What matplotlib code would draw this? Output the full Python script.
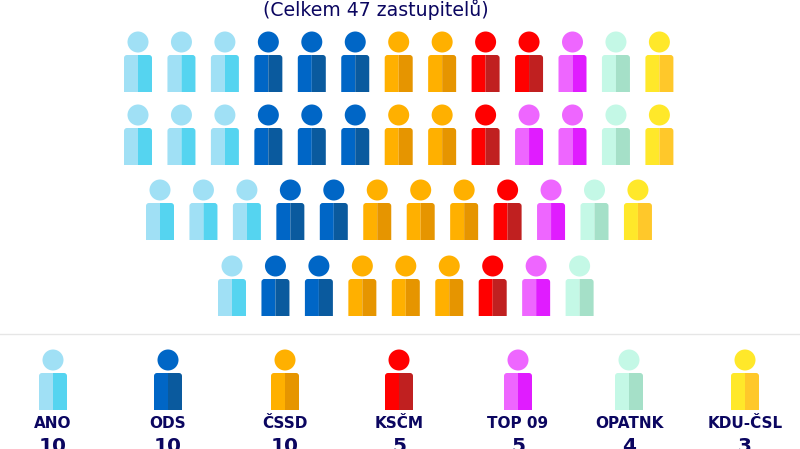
import matplotlib.pyplot as plt
from matplotlib.patches import Circle, PathPatch
from matplotlib.path import Path

parties = ["ANO", "ODS", "ČSSD", "KSČM", "TOP 09", "OPATNK", "KDU-ČSL"]
seats = [10, 10, 10, 5, 5, 4, 3]

# how many of each party sit in each row, top to bottom
row_ano = [3, 3, 3, 1]
row_ods = [3, 3, 2, 2]
row_cssd = [2, 2, 3, 3]
row_kscm = [2, 1, 1, 1]
row_top = [1, 2, 1, 1]
row_opat = [1, 1, 1, 1]
row_kdu = [1, 1, 1, 0]
row_counts = [row_ano, row_ods, row_cssd, row_kscm, row_top, row_opat, row_kdu]

light = ["#a0e0f5", "#0066c6", "#ffb000", "#ff0000", "#ee66ff", "#c4f8e6", "#ffe82a"]
dark = ["#55d4f0", "#0a5a9e", "#e69500", "#c02020", "#e01cff", "#a5e0c8", "#ffc82a"]
navy = "#0b0660"

row_start = [138, 138, 160, 232]
row_head_y = [42, 115, 190, 266]
step = 43.45
legend_x = [53, 168, 285, 399, 518, 629, 745]
legend_head_y = 360


def half_body(ax, cx, top, side, color):
    # side -1 = left half, +1 = right half, outer top corner rounded
    w, h, r = 14, 37, 3
    verts = [(cx, top + h), (cx + side * w, top + h), (cx + side * w, top + r),
             (cx + side * w, top), (cx + side * (w - r), top), (cx, top), (cx, top + h)]
    codes = [Path.MOVETO, Path.LINETO, Path.LINETO, Path.CURVE3, Path.CURVE3,
             Path.LINETO, Path.CLOSEPOLY]
    ax.add_patch(PathPatch(Path(verts, codes), fc=color, ec="none"))


def person(ax, cx, head_y, i):
    ax.add_patch(Circle((cx, head_y), 10.5, fc=light[i], ec="none"))
    half_body(ax, cx, head_y + 13, -1, light[i])
    half_body(ax, cx, head_y + 13, 1, dark[i])


fig = plt.figure(figsize=(8, 4.49), dpi=100)
ax = fig.add_axes([0, 0, 1, 1])
ax.set_xlim(0, 800)
ax.set_ylim(449, 0)
ax.axis("off")

ax.text(375.5, 9.5, "(Celkem 47 zastupitelů)", fontsize=13.6, color=navy,
        ha="center", va="center", family="DejaVu Sans")

for r in range(4):
    col = 0
    for i in range(len(parties)):
        for _ in range(row_counts[i][r]):
            person(ax, row_start[r] + col * step, row_head_y[r], i)
            col += 1

ax.plot([0, 800], [334, 334], color="#e6e6e6", lw=1)

for i, name in enumerate(parties):
    person(ax, legend_x[i], legend_head_y, i)
    ax.text(legend_x[i], 423, name, fontsize=11, fontweight="bold", color=navy,
            ha="center", va="center", family="DejaVu Sans")
    ax.text(legend_x[i], 452, str(seats[i]), fontsize=14.5, fontweight="bold", color=navy,
            ha="center", va="baseline", family="DejaVu Sans")

fig.savefig("out.png", dpi=100)
